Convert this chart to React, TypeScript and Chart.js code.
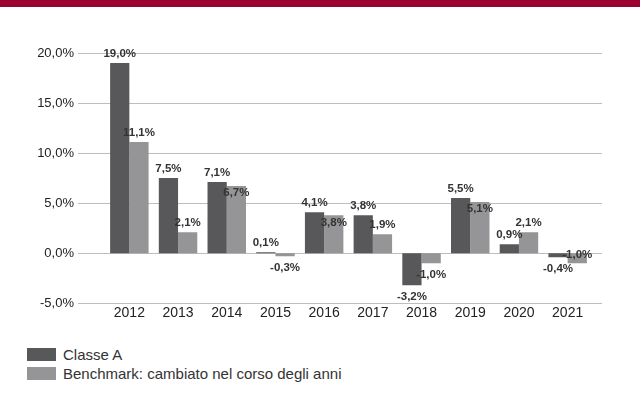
import React, { useEffect, useRef } from "react";
import { Chart, registerables } from "chart.js";

Chart.register(...registerables);

const years = ["2012", "2013", "2014", "2015", "2016", "2017", "2018", "2019", "2020", "2021"];
const classeA = [19.0, 7.5, 7.1, 0.1, 4.1, 3.8, -3.2, 5.5, 0.9, -0.4];
const benchmark = [11.1, 2.1, 6.7, -0.3, 3.8, 1.9, -1.0, 5.1, 2.1, -1.0];
const seriesNames = ["Classe A", "Benchmark: cambiato nel corso degli anni"];
const seriesColors = ["#58585a", "#959597"];
const yTicks = [-5, 0, 5, 10, 15, 20];

const fmt = (v: number) => v.toFixed(1).replace(".", ",") + "%";

const FONT = "Arial, 'Liberation Sans', sans-serif";

const gridPlugin = {
  id: "wideGrid",
  beforeDatasetsDraw(chart: any) {
    const { ctx, scales } = chart;
    const y = scales.y;
    ctx.save();
    ctx.strokeStyle = "#bdbdbd";
    ctx.lineWidth = 1;
    yTicks.forEach((t) => {
      const py = Math.round(y.getPixelForValue(t)) + 0.5;
      ctx.beginPath();
      ctx.moveTo(78, py);
      ctx.lineTo(602, py);
      ctx.stroke();
    });
    ctx.restore();
  },
};

const labelPlugin = {
  id: "valueLabels",
  afterDatasetsDraw(chart: any) {
    const { ctx } = chart;
    ctx.save();
    ctx.font = "bold 11.5px " + FONT;
    ctx.fillStyle = "#333";
    ctx.textAlign = "center";
    ctx.textBaseline = "middle";
    const placed: any[] = [];
    chart.data.datasets.forEach((ds: any, di: number) => {
      const meta = chart.getDatasetMeta(di);
      meta.data.forEach((el: any, i: number) => {
        const v = ds.data[i];
        const text = fmt(v);
        const w = ctx.measureText(text).width;
        let y = v >= 0 ? el.y - 9 : el.y + 12;
        const prev = placed[i];
        if (prev) {
          const overlapX = Math.abs(prev.x - el.x) < (prev.w + w) / 2;
          const overlapY = Math.abs(prev.y - y) < 12;
          if (overlapX && overlapY) {
            y = v < 0 ? (el.y + el.base) / 2 - 3 : prev.y + 20;
          }
        }
        ctx.fillText(text, el.x, y);
        if (!placed[i]) placed[i] = { x: el.x, y, w };
      });
    });
    ctx.restore();
  },
};

export default function App() {
  const ref = useRef<HTMLCanvasElement>(null);
  useEffect(() => {
    document.body.style.margin = "0";
    const chart = new Chart(ref.current!, {
      type: "bar",
      data: {
        labels: years,
        datasets: [
          { label: seriesNames[0], data: classeA, backgroundColor: seriesColors[0] },
          { label: seriesNames[1], data: benchmark, backgroundColor: seriesColors[1] },
        ],
      },
      options: {
        animation: false,
        responsive: false,
        layout: { padding: { top: 53, right: 48, left: 0, bottom: 0 } },
        plugins: { legend: { display: false }, tooltip: { enabled: false } },
        datasets: { bar: { categoryPercentage: 0.79, barPercentage: 1 } },
        scales: {
          x: {
            grid: { display: false, drawTicks: false },
            border: { display: false },
            ticks: { color: "#222", font: { size: 14, family: FONT }, padding: 2 },
            afterFit(s: any) { s.height = 27; },
          },
          y: {
            min: -5,
            max: 20,
            afterBuildTicks(s: any) { s.ticks = yTicks.map((v) => ({ value: v })); },
            grid: { display: false, drawTicks: false },
            border: { display: false },
            ticks: { color: "#222", font: { size: 13, family: FONT }, padding: 31, callback: (v: any) => fmt(Number(v)) },
            afterFit(s: any) { s.width = 105; },
          },
        },
      },
      plugins: [gridPlugin, labelPlugin],
    } as any);
    return () => chart.destroy();
  }, []);
  return (
    <div style={{ position: "relative", width: 640, height: 396, background: "#fff", fontFamily: FONT }}>
      <div style={{ position: "absolute", left: 0, top: 0, width: 640, height: 7, background: "#9b0031" }} />
      <canvas ref={ref} width={640} height={342} style={{ position: "absolute", left: 0, top: 0 }} />
      <div style={{ position: "absolute", left: 27, top: 345 }}>
        {seriesNames.map((n, i) => (
          <div key={n} style={{ display: "flex", alignItems: "center", height: 19 }}>
            <span style={{ display: "inline-block", width: 29, height: 13, background: seriesColors[i], marginRight: 7 }} />
            <span style={{ fontSize: 15, color: "#333" }}>{n}</span>
          </div>
        ))}
      </div>
    </div>
  );
}
